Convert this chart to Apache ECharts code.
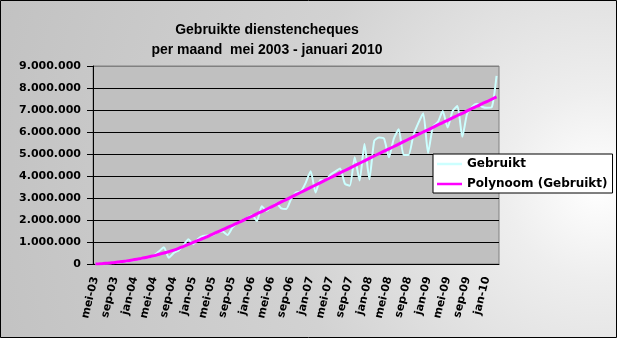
<!DOCTYPE html>
<html>
<head>
<meta charset="utf-8">
<script src="https://cdn.jsdelivr.net/npm/echarts@6/dist/echarts.min.js"></script>
<style>
html,body{margin:0;padding:0;}
#chart{width:617px;height:338px;background:radial-gradient(circle at 97% 55%, #ffffff 0%, #eeeeee 15%, #d2d2d2 50%, #c2c2c2 100%);}
</style>
</head>
<body>
<div id="chart"></div>
<script>
// Month abbreviations (Dutch) and period: mei 2003 .. mrt 2010
var monthNames = ['jan','feb','mrt','apr','mei','jun','jul','aug','sep','okt','nov','dec'];
var startYear = 2003, startMonth = 4, monthCount = 83;

// Gebruikte dienstencheques per maand
var gebruikt = [
  4000, 12000, 22000, 35000, 55000, 80000, 105000, 135000, 180000, 220000,
  270000, 300000, 400000, 580000, 760000, 280000, 500000, 620000, 850000, 1130000,
  900000, 1150000, 1270000, 1300000, 1320000, 1460000, 1480000, 1320000, 1650000, 1850000,
  1980000, 2100000, 2220000, 1950000, 2620000, 2420000, 2600000, 2750000, 2530000, 2500000,
  2950000, 3250000, 3300000, 3700000, 4220000, 3250000, 3820000, 3800000, 4050000, 4200000,
  4340000, 3650000, 3560000, 4850000, 3800000, 5450000, 3850000, 5600000, 5750000, 5700000,
  4850000, 5700000, 6120000, 4950000, 4950000, 5850000, 6400000, 6850000, 5050000, 6250000,
  6450000, 6950000, 6200000, 6950000, 7180000, 5780000, 6850000, 7150000, 7280000, 7150000,
  7100000, 7120000, 8550000
];

// Polynoom (Gebruikt) trendline values
var polynoom = [
  0, 10000, 30000, 50000, 70000, 100000, 130000, 160000, 200000, 240000,
  280000, 330000, 380000, 440000, 500000, 560000, 630000, 710000, 800000, 890000,
  980000, 1070000, 1160000, 1260000, 1360000, 1460000, 1560000, 1660000, 1760000, 1860000,
  1960000, 2070000, 2170000, 2280000, 2380000, 2490000, 2600000, 2710000, 2820000, 2930000,
  3040000, 3150000, 3260000, 3370000, 3480000, 3590000, 3700000, 3810000, 3920000, 4030000,
  4140000, 4250000, 4360000, 4470000, 4580000, 4690000, 4800000, 4910000, 5020000, 5130000,
  5230000, 5340000, 5450000, 5560000, 5670000, 5780000, 5890000, 6000000, 6100000, 6210000,
  6320000, 6430000, 6530000, 6640000, 6750000, 6850000, 6960000, 7070000, 7170000, 7280000,
  7380000, 7490000, 7600000
];

var yMin = 0, yMax = 9000000, yInterval = 1000000;

var categories = [];
for (var i = 0; i < monthCount; i++) {
  var m = (startMonth + i) % 12;
  var y = startYear + Math.floor((startMonth + i) / 12);
  categories.push(monthNames[m] + '-' + String(y).slice(2));
}

function fmt(v) {
  return String(v).replace(/\B(?=(\d{3})+(?!\d))/g, '.');
}

var lblFont = {fontFamily: 'DejaVu Sans', fontWeight: 'bold', fontSize: 11, color: '#000'};
var lineIcon = 'path://M0,0L25,0L25,2.5L0,2.5Z';

var chart = echarts.init(document.getElementById('chart'), null, {renderer: 'canvas'});
chart.setOption({
  animation: false,
  title: {
    text: 'Gebruikte dienstencheques\nper maand  mei 2003 - januari 2010',
    left: 262, top: 15, textAlign: 'center',
    textStyle: {fontFamily: 'Liberation Sans', fontWeight: 'bold', fontSize: 14, lineHeight: 20, color: '#000'}
  },
  graphic: [{
    type: 'rect', shape: {x: 0.5, y: 0.5, width: 616, height: 337},
    style: {fill: 'none', stroke: '#000', lineWidth: 1}, z: 100
  }],
  legend: {
    data: [
      {name: 'Gebruikt', icon: lineIcon, itemStyle: {color: '#ccffff'}},
      {name: 'Polynoom (Gebruikt)', icon: lineIcon, itemStyle: {color: '#ff00ff'}}
    ],
    orient: 'vertical', left: 433, top: 154,
    backgroundColor: '#fff', borderColor: '#000', borderWidth: 1,
    padding: [4, 5, 3, 4], itemWidth: 25, itemHeight: 14, itemGap: 8,
    selectedMode: false,
    textStyle: {fontFamily: 'DejaVu Sans', fontWeight: 'bold', fontSize: 12, color: '#000'}
  },
  grid: {
    left: 93, right: 118, top: 66, bottom: 74,
    show: true, backgroundColor: '#c0c0c0', borderColor: '#808080', borderWidth: 1
  },
  xAxis: {
    type: 'category', data: categories, boundaryGap: true,
    axisLine: {lineStyle: {color: '#000', width: 1}},
    axisTick: {interval: 3, length: 5, lineStyle: {color: '#000'}},
    axisLabel: Object.assign({interval: 3, rotate: 76, margin: 13}, lblFont),
    splitLine: {show: false}
  },
  yAxis: {
    type: 'value', min: yMin, max: yMax, interval: yInterval,
    axisLine: {show: true, lineStyle: {color: '#000', width: 1}},
    axisTick: {show: true, length: 6, lineStyle: {color: '#000'}},
    axisLabel: Object.assign({margin: 12, formatter: fmt}, lblFont),
    splitLine: {show: true, lineStyle: {color: ['#000','#000','#000','#000','#000','#000','#000','#000','#000','#808080'], width: 1}}
  },
  series: [
    {
      name: 'Gebruikt', type: 'line', data: gebruikt, symbol: 'none', smooth: 0.2,
      lineStyle: {color: '#ccffff', width: 2}, itemStyle: {color: '#ccffff'}, z: 2
    },
    {
      name: 'Polynoom (Gebruikt)', type: 'line', data: polynoom, symbol: 'none', smooth: true,
      lineStyle: {color: '#ff00ff', width: 3}, itemStyle: {color: '#ff00ff'}, z: 3
    }
  ]
});
</script>
</body>
</html>
